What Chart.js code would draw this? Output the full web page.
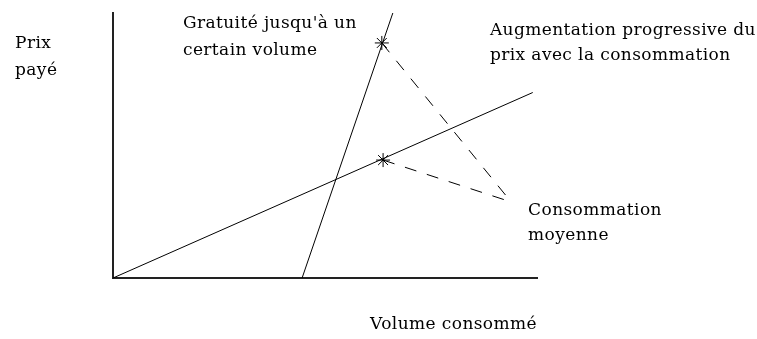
<!DOCTYPE html>
<html>
<head>
<meta charset="utf-8">
<script src="https://cdn.jsdelivr.net/npm/chart.js@4"></script>
<style>
  body { margin: 0; background: #fff; }
</style>
</head>
<body>
<canvas id="priceChart" width="757" height="339"></canvas>
<script>
// Tarification : deux droites de prix selon le volume consommé
const progressiveX = [0, 9.9];      // augmentation progressive du prix
const progressiveY = [0, 7.0];
const freeX = [4.46, 6.6];          // gratuité jusqu'à un certain volume
const freeY = [0, 10];
const averageX = [6.34, 6.37];      // consommation moyenne (étoiles)
const averageY = [8.87, 4.45];
const pointerX = 9.39;              // pointe des flèches vers l'étiquette
const pointerY = 2.87;

const toPoints = (xs, ys) => xs.map((x, i) => ({ x: x, y: ys[i] }));

// Texts drawn next to the curves, placed in data units
const notes = [
  { text: "Gratuité jusqu'à un", x: 1.65, y: 9.43 },
  { text: 'certain volume', x: 1.65, y: 8.42 },
  { text: 'Augmentation progressive du', x: 8.89, y: 9.17 },
  { text: 'prix avec la consommation', x: 8.89, y: 8.23 },
  { text: 'Consommation', x: 9.79, y: 2.38 },
  { text: 'moyenne', x: 9.79, y: 1.43 },
  { text: 'Prix', x: -2.31, y: 8.68 },
  { text: 'payé', x: -2.31, y: 7.66 }
];

const notesPlugin = {
  id: 'notes',
  beforeDraw(chart) {
    // the original text is set a bit wide
    chart.ctx.letterSpacing = '0.4px';
  },
  afterDraw(chart) {
    const ctx = chart.ctx;
    const xs = chart.scales.x, ys = chart.scales.y;
    ctx.save();
    ctx.font = '17px "DejaVu Serif"';
    ctx.fillStyle = '#000';
    ctx.textBaseline = 'alphabetic';
    notes.forEach(n => {
      ctx.fillText(n.text, xs.getPixelForValue(n.x), ys.getPixelForValue(n.y));
    });
    ctx.restore();
  }
};

const solid = { borderColor: '#000', borderWidth: 1, pointRadius: 0, showLine: true, fill: false };
const dashed = Object.assign({}, solid, { borderDash: [12, 11] });

new Chart(document.getElementById('priceChart'), {
  type: 'scatter',
  data: {
    datasets: [
      Object.assign({ data: toPoints(progressiveX, progressiveY) }, solid),
      Object.assign({ data: toPoints(freeX, freeY) }, solid),
      Object.assign({ data: [{ x: averageX[0], y: averageY[0] }, { x: pointerX, y: pointerY }] }, dashed),
      Object.assign({ data: [{ x: averageX[1], y: averageY[1] }, { x: pointerX, y: pointerY }] }, dashed),
      {
        data: toPoints(averageX, averageY),
        pointStyle: 'star',
        pointRadius: 7,
        borderColor: '#000',
        borderWidth: 1,
        showLine: false
      }
    ]
  },
  options: {
    responsive: false,
    animation: false,
    clip: false,
    layout: { padding: { left: 0, top: 13, right: 220, bottom: 0 } },
    plugins: { legend: { display: false }, tooltip: { enabled: false } },
    scales: {
      x: {
        type: 'linear', min: 0, max: 10,
        ticks: { display: false },
        grid: { display: false },
        border: { display: true, color: '#222', width: 2 },
        title: {
          display: true, text: 'Volume consommé', align: 'end',
          color: '#000', font: { family: 'DejaVu Serif', size: 17 }
        },
        afterFit(scale) { scale.height = 61; }
      },
      y: {
        type: 'linear', min: 0, max: 10,
        ticks: { display: false },
        grid: { display: false },
        border: { display: true, color: '#222', width: 2 },
        afterFit(scale) { scale.width = 113; }
      }
    }
  },
  plugins: [notesPlugin]
});
</script>
</body>
</html>
